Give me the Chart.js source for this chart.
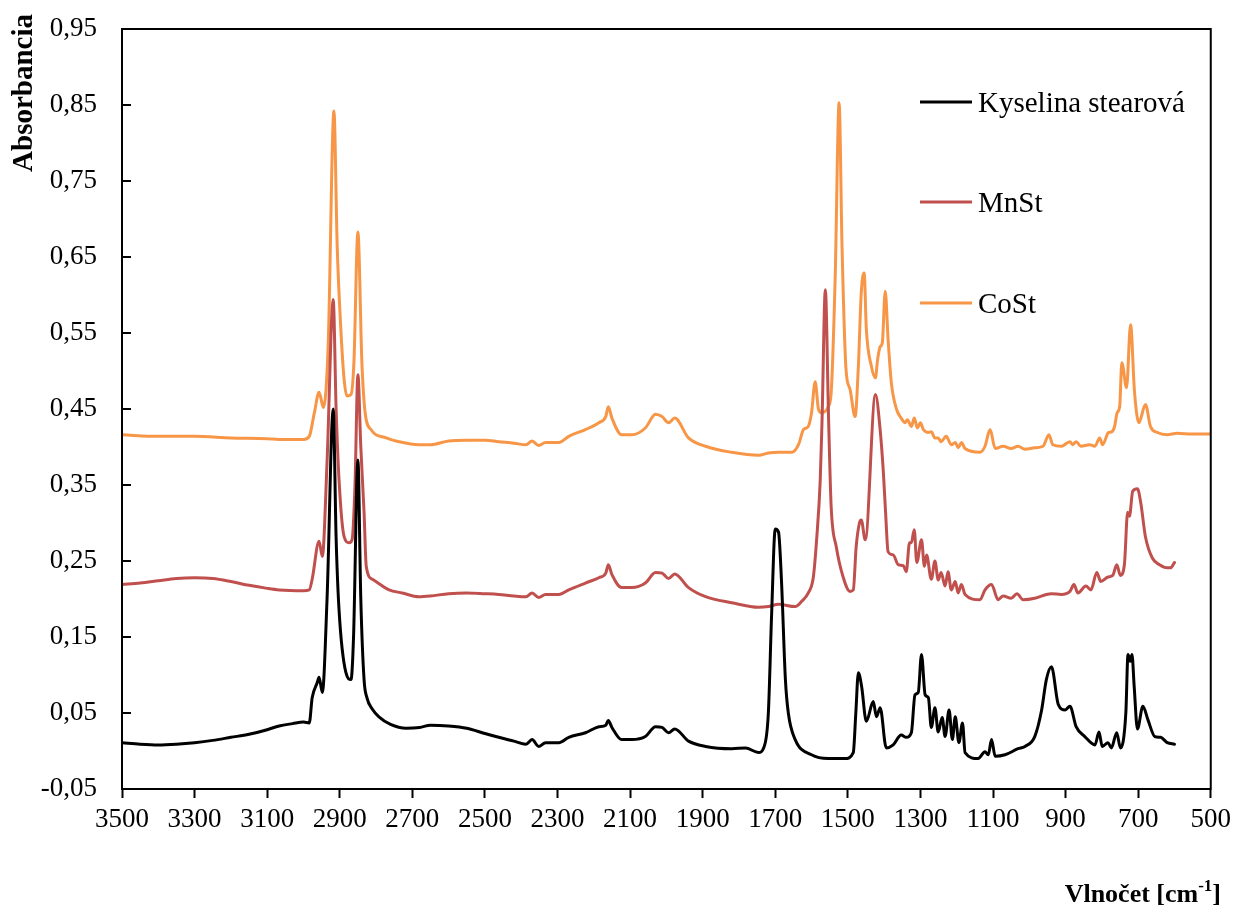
<!DOCTYPE html>
<html>
<head>
<meta charset="utf-8">
<script src="https://cdn.jsdelivr.net/npm/chart.js@4.4.1/dist/chart.umd.min.js"></script>
<style>
  html, body { margin: 0; padding: 0; background: #fff; }
  #wrap { width: 1237px; height: 913px; }
</style>
</head>
<body>
<div id="wrap"><canvas id="canvas" width="1237" height="913"></canvas></div>
<script>
// tick labels
const xTicks = [3500, 3300, 3100, 2900, 2700, 2500, 2300, 2100, 1900, 1700, 1500, 1300, 1100, 900, 700, 500];
const yTicks = [-0.05, 0.05, 0.15, 0.25, 0.35, 0.45, 0.55, 0.65, 0.75, 0.85, 0.95];

const seriesNames = ['Kyselina stearová', 'MnSt', 'CoSt'];

// Kyselina stearova
const stearicWn = [3500, 3450, 3400, 3350, 3300, 3250, 3200, 3150, 3100, 3067, 3030, 3000, 2984, 2976, 2962, 2957, 2948, 2935, 2918, 2910, 2902, 2883, 2869, 2862, 2850, 2842, 2833, 2825, 2810, 2792, 2760, 2717, 2680, 2650, 2600, 2550, 2500, 2462, 2420, 2387, 2370, 2352, 2333, 2296, 2269, 2223, 2186, 2167, 2160, 2150, 2123, 2095, 2058, 2030, 2012, 1994, 1977, 1939, 1892, 1820, 1782, 1746, 1732, 1719, 1710, 1700, 1691, 1683, 1672, 1664, 1645, 1600, 1554, 1508, 1485, 1478, 1471, 1462, 1449, 1430, 1421, 1411, 1394, 1375, 1353, 1339, 1325, 1315, 1306, 1297, 1287, 1278, 1270, 1260, 1251, 1240, 1232, 1221, 1212, 1204, 1194, 1184, 1177, 1141, 1122, 1113, 1104, 1094, 1067, 1031, 1012, 985, 966, 953, 939, 920, 901, 888, 871, 847, 819, 808, 799, 783, 774, 759, 749, 734, 728, 722, 717, 711, 702, 687, 673, 654, 638, 620, 600];
const stearicAbs = [0.011, 0.009, 0.008, 0.009, 0.011, 0.014, 0.018, 0.022, 0.028, 0.033, 0.036, 0.038, 0.037, 0.070, 0.090, 0.097, 0.077, 0.200, 0.450, 0.280, 0.186, 0.103, 0.094, 0.150, 0.383, 0.200, 0.094, 0.070, 0.055, 0.045, 0.035, 0.030, 0.031, 0.034, 0.033, 0.030, 0.023, 0.018, 0.013, 0.009, 0.015, 0.006, 0.011, 0.011, 0.018, 0.024, 0.032, 0.034, 0.040, 0.031, 0.015, 0.015, 0.019, 0.032, 0.031, 0.024, 0.029, 0.013, 0.006, 0.003, 0.004, -0.002, 0.004, 0.050, 0.180, 0.292, 0.288, 0.226, 0.094, 0.050, 0.015, -0.005, -0.010, -0.010, -0.002, 0.050, 0.103, 0.085, 0.039, 0.065, 0.045, 0.057, 0.004, 0.008, 0.021, 0.018, 0.024, 0.074, 0.077, 0.127, 0.074, 0.070, 0.031, 0.057, 0.025, 0.044, 0.019, 0.054, 0.015, 0.045, 0.011, 0.037, -0.002, -0.010, -0.001, -0.005, 0.015, -0.007, -0.005, 0.003, 0.006, 0.019, 0.054, 0.094, 0.111, 0.061, 0.054, 0.059, 0.032, 0.019, 0.008, 0.025, 0.006, 0.011, 0.004, 0.024, 0.004, 0.050, 0.127, 0.118, 0.127, 0.085, 0.029, 0.059, 0.041, 0.019, 0.018, 0.011, 0.009];

// MnSt
const mnWn = [3500, 3450, 3400, 3350, 3300, 3250, 3200, 3150, 3100, 3067, 3000, 2984, 2976, 2957, 2948, 2935, 2918, 2910, 2902, 2888, 2874, 2866, 2858, 2850, 2842, 2833, 2827, 2810, 2764, 2728, 2682, 2650, 2600, 2550, 2500, 2462, 2420, 2387, 2370, 2352, 2333, 2296, 2269, 2223, 2186, 2167, 2160, 2150, 2123, 2095, 2058, 2030, 2012, 1994, 1977, 1939, 1892, 1820, 1746, 1719, 1691, 1645, 1627, 1609, 1595, 1586, 1576, 1571, 1562, 1553, 1546, 1532, 1513, 1494, 1485, 1477, 1468, 1463, 1452, 1424, 1411, 1402, 1396, 1389, 1375, 1361, 1347, 1339, 1330, 1325, 1317, 1310, 1297, 1289, 1283, 1270, 1260, 1251, 1243, 1232, 1224, 1215, 1204, 1196, 1187, 1177, 1136, 1122, 1104, 1086, 1072, 1050, 1034, 1017, 985, 953, 939, 912, 888, 877, 866, 844, 830, 814, 803, 783, 770, 759, 749, 738, 729, 724, 715, 702, 693, 680, 661, 641, 620, 611, 600];
const mnAbs = [0.219, 0.221, 0.224, 0.227, 0.228, 0.227, 0.223, 0.218, 0.214, 0.212, 0.211, 0.212, 0.226, 0.276, 0.256, 0.380, 0.594, 0.450, 0.357, 0.282, 0.274, 0.278, 0.350, 0.495, 0.400, 0.314, 0.243, 0.226, 0.212, 0.208, 0.203, 0.204, 0.207, 0.208, 0.207, 0.206, 0.204, 0.203, 0.208, 0.202, 0.206, 0.206, 0.212, 0.221, 0.228, 0.234, 0.245, 0.232, 0.215, 0.215, 0.221, 0.235, 0.234, 0.227, 0.233, 0.215, 0.203, 0.195, 0.189, 0.190, 0.193, 0.190, 0.197, 0.208, 0.229, 0.278, 0.357, 0.436, 0.607, 0.436, 0.322, 0.269, 0.229, 0.210, 0.212, 0.269, 0.300, 0.304, 0.278, 0.469, 0.423, 0.366, 0.314, 0.262, 0.258, 0.245, 0.244, 0.236, 0.274, 0.274, 0.291, 0.248, 0.278, 0.243, 0.258, 0.226, 0.250, 0.225, 0.235, 0.217, 0.236, 0.212, 0.223, 0.208, 0.219, 0.206, 0.199, 0.212, 0.219, 0.199, 0.204, 0.201, 0.207, 0.199, 0.201, 0.206, 0.207, 0.206, 0.210, 0.219, 0.208, 0.217, 0.212, 0.235, 0.223, 0.229, 0.231, 0.245, 0.231, 0.245, 0.314, 0.309, 0.342, 0.345, 0.327, 0.282, 0.254, 0.245, 0.241, 0.241, 0.248];

// CoSt
const coWn = [3500, 3400, 3300, 3200, 3100, 3067, 3000, 2984, 2970, 2957, 2945, 2932, 2916, 2907, 2897, 2888, 2880, 2869, 2861, 2850, 2839, 2830, 2814, 2772, 2737, 2682, 2650, 2600, 2550, 2500, 2462, 2420, 2387, 2370, 2352, 2333, 2296, 2269, 2223, 2186, 2167, 2160, 2150, 2123, 2095, 2058, 2030, 2012, 1994, 1977, 1939, 1892, 1820, 1746, 1719, 1691, 1654, 1636, 1622, 1609, 1600, 1590, 1581, 1572, 1554, 1546, 1535, 1524, 1516, 1505, 1494, 1480, 1471, 1463, 1455, 1449, 1435, 1424, 1418, 1411, 1405, 1397, 1389, 1380, 1366, 1353, 1342, 1336, 1325, 1317, 1308, 1300, 1292, 1278, 1270, 1260, 1251, 1243, 1229, 1215, 1204, 1196, 1187, 1177, 1136, 1122, 1108, 1094, 1072, 1050, 1031, 1012, 985, 962, 946, 935, 912, 888, 880, 871, 858, 834, 819, 806, 798, 782, 773, 765, 758, 751, 745, 732, 721, 710, 698, 680, 666, 647, 620, 593, 550, 500];
const coAbs = [0.416, 0.414, 0.414, 0.412, 0.411, 0.410, 0.410, 0.414, 0.445, 0.472, 0.452, 0.532, 0.842, 0.664, 0.555, 0.489, 0.467, 0.469, 0.511, 0.683, 0.511, 0.445, 0.423, 0.412, 0.407, 0.403, 0.403, 0.408, 0.409, 0.409, 0.407, 0.405, 0.403, 0.408, 0.402, 0.406, 0.406, 0.414, 0.423, 0.432, 0.440, 0.453, 0.438, 0.416, 0.416, 0.425, 0.443, 0.440, 0.432, 0.438, 0.412, 0.401, 0.393, 0.389, 0.392, 0.393, 0.393, 0.403, 0.423, 0.427, 0.445, 0.486, 0.450, 0.445, 0.453, 0.471, 0.620, 0.853, 0.664, 0.502, 0.476, 0.440, 0.506, 0.603, 0.629, 0.555, 0.506, 0.491, 0.515, 0.532, 0.537, 0.605, 0.541, 0.484, 0.450, 0.438, 0.432, 0.436, 0.427, 0.438, 0.425, 0.432, 0.423, 0.419, 0.420, 0.412, 0.412, 0.407, 0.414, 0.403, 0.406, 0.399, 0.406, 0.398, 0.393, 0.401, 0.423, 0.398, 0.401, 0.398, 0.401, 0.397, 0.399, 0.401, 0.416, 0.403, 0.401, 0.407, 0.403, 0.407, 0.401, 0.403, 0.401, 0.412, 0.403, 0.419, 0.420, 0.427, 0.445, 0.453, 0.511, 0.478, 0.561, 0.472, 0.432, 0.456, 0.427, 0.419, 0.416, 0.418, 0.417, 0.417];

const colors = ['#000000', '#C0504D', '#F79646'];
const FONT = "'Liberation Serif', 'Times New Roman', serif";

function toPoints(wn, abs) {
    return wn.map((w, i) => ({ x: w, y: abs[i] }));
}

// ramecek, vnitrni ticky na y, popisky os a legenda
const decorPlugin = {
    id: 'decor',
    afterDraw(chart) {
        const ctx = chart.ctx;
        const a = chart.chartArea;
        const ys = chart.scales.y;
        ctx.save();
        ctx.strokeStyle = '#000';
        ctx.lineWidth = 2;
        ctx.strokeRect(a.left, a.top, a.right - a.left, a.bottom - a.top);

        ctx.beginPath();
        yTicks.forEach((v) => {
            const py = Math.round(ys.getPixelForValue(v));
            ctx.moveTo(a.left, py);
            ctx.lineTo(a.left + 9, py);
        });
        ctx.stroke();

        // y title
        ctx.fillStyle = '#000';
        ctx.save();
        ctx.translate(25, 14);
        ctx.rotate(-Math.PI / 2);
        ctx.font = 'bold 29px ' + FONT;
        ctx.textAlign = 'right';
        ctx.textBaseline = 'middle';
        ctx.fillText('Absorbancia', 0, 0);
        ctx.restore();

        // x title with superscript
        const base = 'Vlnočet [cm';
        const sup = '-1';
        const end = ']';
        ctx.textBaseline = 'alphabetic';
        ctx.textAlign = 'left';
        ctx.font = 'bold 26px ' + FONT;
        const wBase = ctx.measureText(base).width;
        const wEnd = ctx.measureText(end).width;
        ctx.font = 'bold 17px ' + FONT;
        const wSup = ctx.measureText(sup).width;
        const right = 1221;
        const baseY = 902;
        let x = right - wBase - wSup - wEnd;
        ctx.font = 'bold 26px ' + FONT;
        ctx.fillText(base, x, baseY);
        x += wBase;
        ctx.font = 'bold 17px ' + FONT;
        ctx.fillText(sup, x, baseY - 11);
        x += wSup;
        ctx.font = 'bold 26px ' + FONT;
        ctx.fillText(end, x, baseY);

        // legend
        const legY = [102, 202, 303];
        ctx.font = '29px ' + FONT;
        chart.data.datasets.forEach((ds, i) => {
            ctx.strokeStyle = ds.borderColor;
            ctx.lineWidth = 3;
            ctx.beginPath();
            ctx.moveTo(920, legY[i]);
            ctx.lineTo(972, legY[i]);
            ctx.stroke();
            ctx.fillStyle = '#000';
            ctx.fillText(ds.label, 978, legY[i] + 10);
        });
        ctx.restore();
    }
};

const ctx = document.getElementById('canvas').getContext('2d');
const myChart = new Chart(ctx, {
    type: 'line',
    data: {
        datasets: [
            { label: seriesNames[0], data: toPoints(stearicWn, stearicAbs), borderColor: colors[0] },
            { label: seriesNames[1], data: toPoints(mnWn, mnAbs), borderColor: colors[1] },
            { label: seriesNames[2], data: toPoints(coWn, coAbs), borderColor: colors[2] }
        ]
    },
    options: {
        responsive: false,
        animation: false,
        devicePixelRatio: 1,
        layout: { padding: { top: 29, right: 22, bottom: 0, left: 0 } },
        elements: {
            line: { borderWidth: 3, cubicInterpolationMode: 'monotone', fill: false, borderCapStyle: 'round', borderJoinStyle: 'round' },
            point: { radius: 0, hoverRadius: 0 }
        },
        plugins: {
            legend: { display: false },
            tooltip: { enabled: false }
        },
        scales: {
            x: {
                type: 'linear',
                reverse: true,
                min: 500,
                max: 3500,
                afterBuildTicks: (scale) => { scale.ticks = xTicks.map((v) => ({ value: v })); },
                afterFit: (scale) => { scale.height = 124; },
                grid: { display: true, drawOnChartArea: false, drawTicks: true, tickLength: 9, tickWidth: 2, color: '#000' },
                border: { display: true, color: '#000', width: 2 },
                ticks: {
                    color: '#000',
                    font: { family: FONT, size: 27 },
                    padding: 6,
                    maxRotation: 0,
                    autoSkip: false,
                    callback: (v) => String(v)
                }
            },
            y: {
                min: -0.05,
                max: 0.95,
                afterBuildTicks: (scale) => { scale.ticks = yTicks.map((v) => ({ value: v })); },
                afterFit: (scale) => {
                    scale.width = 122;
                    scale.paddingTop = 0;
                    scale.paddingBottom = 0;
                },
                grid: { display: false, drawTicks: false },
                border: { display: true, color: '#000', width: 2 },
                ticks: {
                    color: '#000',
                    font: { family: FONT, size: 27 },
                    padding: 25,
                    callback: (v) => v.toFixed(2).replace('.', ',')
                }
            }
        }
    },
    plugins: [decorPlugin]
});
</script>
</body>
</html>
